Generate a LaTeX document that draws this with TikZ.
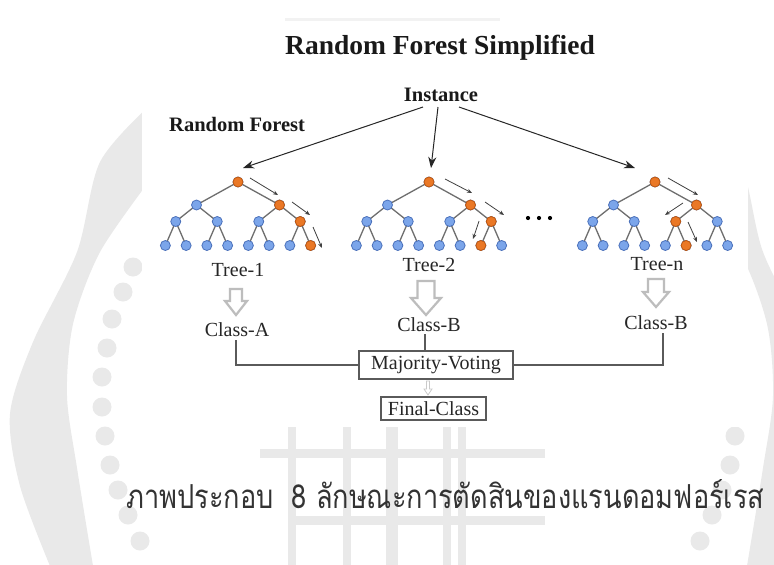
\documentclass[tikz,border=0pt]{standalone}
\usepackage{fontspec}
\setmainfont{Liberation Serif}
\newfontfamily\thaifont[Script=Thai]{Loma}
\usetikzlibrary{calc,arrows.meta}
\definecolor{wm}{HTML}{E9E9E9}
\definecolor{nodeblue}{HTML}{7BA5EA}
\definecolor{nodeblueline}{HTML}{4A70BA}
\definecolor{nodeorange}{HTML}{EA7826}
\definecolor{nodeorangeline}{HTML}{BF5810}
\definecolor{edgegray}{HTML}{6E6E6E}
\definecolor{linegray}{HTML}{5A5A5A}
\definecolor{hollowgray}{HTML}{BDBDBD}
\tikzset{
  bnode/.style={circle,fill=nodeblue,draw=nodeblueline,line width=0.8pt,minimum size=10pt,inner sep=0pt},
  onode/.style={circle,fill=nodeorange,draw=nodeorangeline,line width=0.8pt,minimum size=10pt,inner sep=0pt},
  tedge/.style={edgegray,line width=1.3pt},
  patharrow/.style={-{Stealth[length=5pt,width=4pt]},black!75,line width=0.8pt},
  instarrow/.style={-{Stealth[length=11pt,width=8pt]},black!85,line width=1pt},
  lbl/.style={font=\fontsize{20}{22}\selectfont,text=black!85,inner sep=0pt},
  boldlbl/.style={font=\fontsize{20.5}{22}\selectfont\bfseries,text=black!90,inner sep=0pt},
  votebox/.style={draw=linegray,line width=1.2pt,inner sep=0pt,font=\fontsize{20}{22}\selectfont,text=black!85},
  voteline/.style={linegray,line width=1.2pt},
  hollow/.style={draw=hollowgray,fill=white,line width=2.2pt,line join=miter},
}
% tree macro: #1 name prefix, #2 root x
\newcommand{\drawforesttree}[2]{%
  \coordinate (#1r) at (#2,182);
  \coordinate (#1a) at (#2-41.5,205);
  \coordinate (#1b) at (#2+41.5,205);
  \foreach \i/\dx in {1/-62.25,2/-20.75,3/20.75,4/62.25}{\coordinate (#1c\i) at (#2+\dx,221.5);}
  \foreach \i in {1,...,8}{\coordinate (#1d\i) at ({#2+(\i-4.5)*20.75},245.5);}
  \draw[tedge] (#1a) -- (#1r) -- (#1b);
  \draw[tedge] (#1c1) -- (#1a) -- (#1c2);
  \draw[tedge] (#1c3) -- (#1b) -- (#1c4);
  \draw[tedge] (#1d1) -- (#1c1) -- (#1d2);
  \draw[tedge] (#1d3) -- (#1c2) -- (#1d4);
  \draw[tedge] (#1d5) -- (#1c3) -- (#1d6);
  \draw[tedge] (#1d7) -- (#1c4) -- (#1d8);
}
\newcommand{\hollowdown}[6]{% x, ytop, yhead, ytip, shaft half, head half
  \draw[hollow] (#1-#5,#2) -- (#1+#5,#2) -- (#1+#5,#3) -- (#1+#6,#3) -- (#1,#4) -- (#1-#6,#3) -- (#1-#5,#3) -- cycle;}
\begin{document}
\begin{tikzpicture}[x=1pt,y=-1pt]
\useasboundingbox (0,0) rectangle (774,565);
\fill[white] (0,0) rectangle (774,565);
% ---- faint watermark ----
\fill[wm] plot[smooth] coordinates {(150,105) (100,162) (77,252) (33,342) (10,414) (20,486) (50,566)}
  -- (93,566) -- plot[smooth] coordinates {(93,566) (77,468) (67,396) (73,324) (100,252) (150,180)} -- cycle;
\fill[wm] plot[smooth] coordinates {(690,105) (740,162) (763,252) (807,342) (830,414) (820,486) (790,566)}
  -- (747,566) -- plot[smooth] coordinates {(747,566) (763,468) (773,396) (767,324) (740,252) (690,180)} -- cycle;
\foreach \px/\py in {133/267,123/292,112/319,107/348,102/377,102/407,105/436,110/465,118/490,128/515,140/541}{
  \fill[wm] (\px,\py) circle (9.5);
  \fill[wm] ({840-\px},\py) circle (9.5);}
\draw[wm,line width=9pt] (260,453) -- (545,453);
\draw[wm,line width=9pt] (292,520) -- (545,520);
\foreach \gx in {292,347,447,462}{\draw[wm,line width=8pt] (\gx,420) -- (\gx,565);}
\draw[wm,line width=12pt] (392,420) -- (392,565);
\draw[wm,line width=10pt] (210,420) arc[start angle=-171.9,end angle=-143,radius=192];
\draw[wm,line width=10pt] (594,425) arc[start angle=-8,end angle=-37,radius=192];
% ---- white panel ----
\fill[white] (142,18) rectangle (748,427);
\fill[black!5] (285,18) rectangle (500,21);
% ---- titles ----
\node[font=\fontsize{27.5}{30}\selectfont\bfseries,text=black!90,inner sep=0pt] (title) at (440,47.5) {Random Forest Simplified};
\node[boldlbl] (inst) at (441,95) {Instance};
\node[boldlbl,anchor=west] (rf) at (169,124.5) {Random Forest};
% ---- trees ----
\drawforesttree{ta}{238}
\drawforesttree{tb}{429}
\drawforesttree{tn}{655}
% node circles
\foreach \t in {ta,tb,tn}{
  \foreach \n in {r,a,b,c1,c2,c3,c4,d1,d2,d3,d4,d5,d6,d7,d8}{\node[bnode] (\t\n n) at (\t\n) {};}}
\foreach \n in {r,b,c4,d8}{\node[onode] at (ta\n) {};}
\foreach \n in {r,b,c4,d7}{\node[onode] at (tb\n) {};}
\foreach \n in {r,b,c3,d6}{\node[onode] at (tn\n) {};}
% path arrows
\draw[patharrow] ($(tar)+(12,-4)$) -- ($(tar)+(40,13)$);
\draw[patharrow] ($(tar)+(54,20)$) -- ($(tar)+(72,33)$);
\draw[patharrow] ($(tar)+(75,45)$) -- ($(tar)+(84,66)$);
\draw[patharrow] ($(tbr)+(16,-3)$) -- ($(tbr)+(43,11)$);
\draw[patharrow] ($(tbr)+(56,20)$) -- ($(tbr)+(75,33)$);
\draw[patharrow] ($(tbr)+(50,39)$) -- ($(tbr)+(44,57)$);
\draw[patharrow] ($(tnr)+(13,-4)$) -- ($(tnr)+(43,13)$);
\draw[patharrow] ($(tnr)+(28,21)$) -- ($(tnr)+(10,33)$);
\draw[patharrow] ($(tnr)+(33,40)$) -- ($(tnr)+(42,60)$);
% instance arrows
\draw[instarrow] ($(inst.south)+(-18,5)$) -- ($(tarn)+(5,-14)$);
\draw[instarrow] ($(inst.south)+(-3,5)$) -- ($(tbrn)+(2,-14)$);
\draw[instarrow] ($(inst.south)+(18,5)$) -- ($(tnrn)+(-20,-14)$);
% dots
\foreach \dx in {528,539,550}{\fill[black] (\dx,218) circle (2.1);}
% ---- labels ----
\node[lbl] (tree1) at (238,270) {Tree-1};
\node[lbl] (tree2) at (429,265) {Tree-2};
\node[lbl] (treen) at (657,264) {Tree-n};
\hollowdown{236}{289}{301}{315}{6}{11}
\hollowdown{426}{281}{298}{315}{8.5}{15}
\hollowdown{656}{279}{292}{307}{8}{13}
\node[lbl] (classA) at (237,330) {Class-A};
\node[lbl] (classB) at (429,325) {Class-B};
\node[lbl] (classBn) at (656,323) {Class-B};
\node[votebox,minimum width=154pt,minimum height=28pt] (mv) at (436,365) {Majority-Voting};
\node[votebox,minimum width=105pt,minimum height=23pt] (fc) at (433.5,408.5) {Final-Class};
\draw[voteline] ([xshift=-1pt,yshift=-3pt]classA.south) |- (mv.west);
\draw[voteline] ([xshift=7pt,yshift=-3pt]classBn.south) |- (mv.east);
\draw[voteline] ([xshift=-4pt,yshift=-2pt]classB.south) -- ([xshift=-11pt]mv.north);
\draw[draw=hollowgray!80,fill=white,line width=0.8pt] (426.5,381) -- (429.5,381) -- (429.5,389) -- (432,389) -- (428,395) -- (424,389) -- (426.5,389) -- cycle;
% ---- caption ----
\node[inner sep=0pt,anchor=base west,text=black!80] (cap) at (126,508) {\resizebox{638pt}{29pt}{\thaifont ภาพประกอบ~~8 ลักษณะการตัดสินของแรนดอมฟอร์เรส}};
\end{tikzpicture}
\end{document}
